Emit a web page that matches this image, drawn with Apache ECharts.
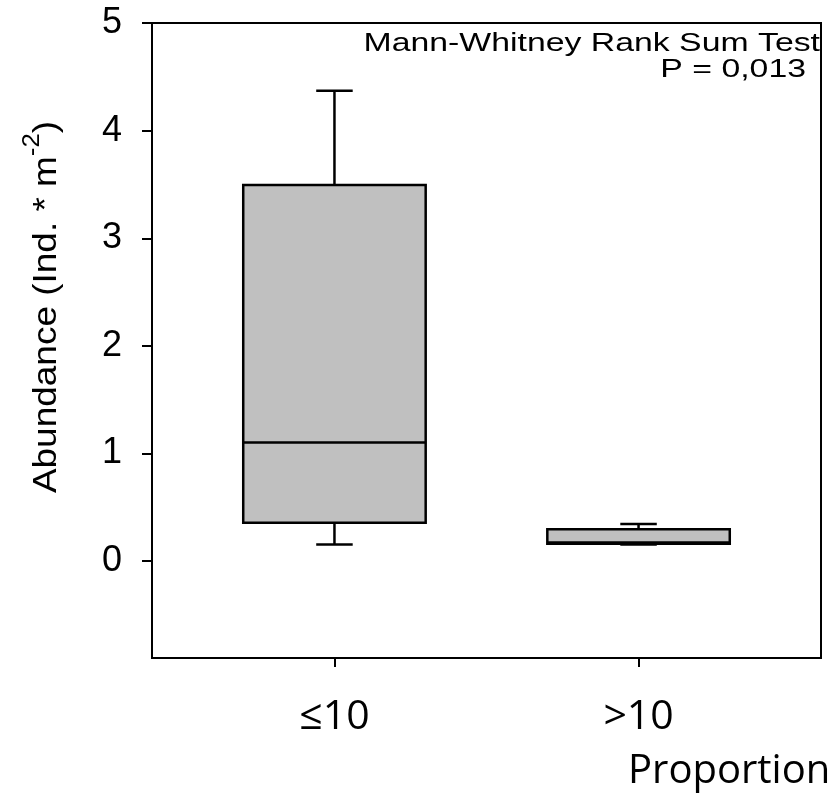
<!DOCTYPE html>
<html>
<head>
<meta charset="utf-8">
<script src="https://cdn.jsdelivr.net/npm/echarts@6/dist/echarts.min.js"></script>
<style>
  html, body { margin: 0; padding: 0; background: #fff; }
  #chart { width: 831px; height: 798px; }
</style>
</head>
<body>
<div id="chart"></div>
<script>
// groups on the x axis
const categories = ['≤10', '>10'];
// box plot statistics
const lowerWhisker = [0.155, 0.155];
const q1 = [0.356, 0.161];
const median = [1.102, 0.174];
const q3 = [3.494, 0.297];
const upperWhisker = [4.37, 0.346];
// y axis ticks
const yTicks = [0, 1, 2, 3, 4, 5];

const boxData = categories.map((c, i) => [i + 1, lowerWhisker[i], q1[i], median[i], q3[i], upperWhisker[i]]);

const BOX_HALF = 0.3;   // half box width, axis units
const CAP_HALF = 0.06;  // half whisker cap width, axis units

function renderBox(params, api) {
    const x = api.value(0);
    const lo = api.coord([x, api.value(1)]);
    const b1 = api.coord([x - BOX_HALF, api.value(2)]);
    const b2 = api.coord([x + BOX_HALF, api.value(4)]);
    const medY = api.coord([x, api.value(3)])[1];
    const hi = api.coord([x, api.value(5)]);
    const c1 = api.coord([x - CAP_HALF, 0])[0];
    const c2 = api.coord([x + CAP_HALF, 0])[0];
    const line = {stroke: '#000', lineWidth: 2.5};
    return {
        type: 'group',
        children: [
            {type: 'line', shape: {x1: lo[0], y1: b1[1], x2: lo[0], y2: lo[1]}, style: line},
            {type: 'line', shape: {x1: c1, y1: lo[1], x2: c2, y2: lo[1]}, style: line},
            {type: 'line', shape: {x1: hi[0], y1: b2[1], x2: hi[0], y2: hi[1]}, style: line},
            {type: 'line', shape: {x1: c1, y1: hi[1], x2: c2, y2: hi[1]}, style: line},
            {type: 'rect', shape: {x: b1[0], y: b2[1], width: b2[0] - b1[0], height: b1[1] - b2[1]},
                style: {fill: '#c0c0c0', stroke: '#000', lineWidth: 2.5}},
            {type: 'line', shape: {x1: b1[0], y1: medY, x2: b2[0], y2: medY}, style: line}
        ]
    };
}

const chart = echarts.init(document.getElementById('chart'));
chart.setOption({
    animation: false,
    backgroundColor: '#fff',
    grid: {left: 152, top: 23, right: 10, bottom: 140, show: true, borderColor: '#000', borderWidth: 2},
    xAxis: {
        type: 'value',
        min: 0.4,
        max: 2.6,
        splitLine: {show: false},
        axisLine: {onZero: false, lineStyle: {color: '#000', width: 2}},
        axisTick: {customValues: [1, 2], length: 9, lineStyle: {color: '#000', width: 2}},
        axisLabel: {
            customValues: [1, 2],
            formatter: v => categories[Math.round(v) - 1],
            fontFamily: 'Open Sans', fontSize: 41, color: '#000', margin: 39
        }
    },
    yAxis: {
        type: 'value',
        min: -0.9,
        max: 5,
        splitLine: {show: false},
        axisLine: {lineStyle: {color: '#000', width: 2}},
        axisTick: {customValues: yTicks, length: 10, lineStyle: {color: '#000', width: 2}},
        axisLabel: {
            customValues: yTicks,
            fontFamily: 'Liberation Sans', fontSize: 36, color: '#000', margin: 30
        }
    },
    series: [{
        type: 'custom',
        renderItem: renderBox,
        encode: {x: 0, y: [1, 2, 3, 4, 5]},
        data: boxData
    }],
    graphic: [
        {
            type: 'text', x: 42, y: 307, rotation: Math.PI / 2, scaleX: 1.12,
            style: {
                text: '{a|Abundance (Ind. * m}{s|-2}{a|)}',
                align: 'center', verticalAlign: 'middle',
                fill: '#000', fontFamily: 'Liberation Sans',
                rich: {
                    a: {fontSize: 33, fontFamily: 'Liberation Sans', fill: '#000', verticalAlign: 'bottom', lineHeight: 42},
                    s: {fontSize: 23, fontFamily: 'Liberation Sans', fill: '#000', verticalAlign: 'top', lineHeight: 42}
                }
            }
        },
        {
            type: 'text', x: 820, y: 44, scaleX: 1.3,
            style: {text: 'Mann-Whitney Rank Sum Test', align: 'right', verticalAlign: 'middle',
                fontFamily: 'Liberation Sans', fontSize: 26, fill: '#000'}
        },
        {
            type: 'text', x: 806, y: 70, scaleX: 1.3,
            style: {text: 'P = 0,013', align: 'right', verticalAlign: 'middle',
                fontFamily: 'Liberation Sans', fontSize: 26, fill: '#000'}
        },
        {
            type: 'text', x: 628, y: 772,
            style: {text: 'Proportion', align: 'left', verticalAlign: 'middle',
                fontFamily: 'Open Sans', fontSize: 40, fill: '#000'}
        }
    ]
});
</script>
</body>
</html>
